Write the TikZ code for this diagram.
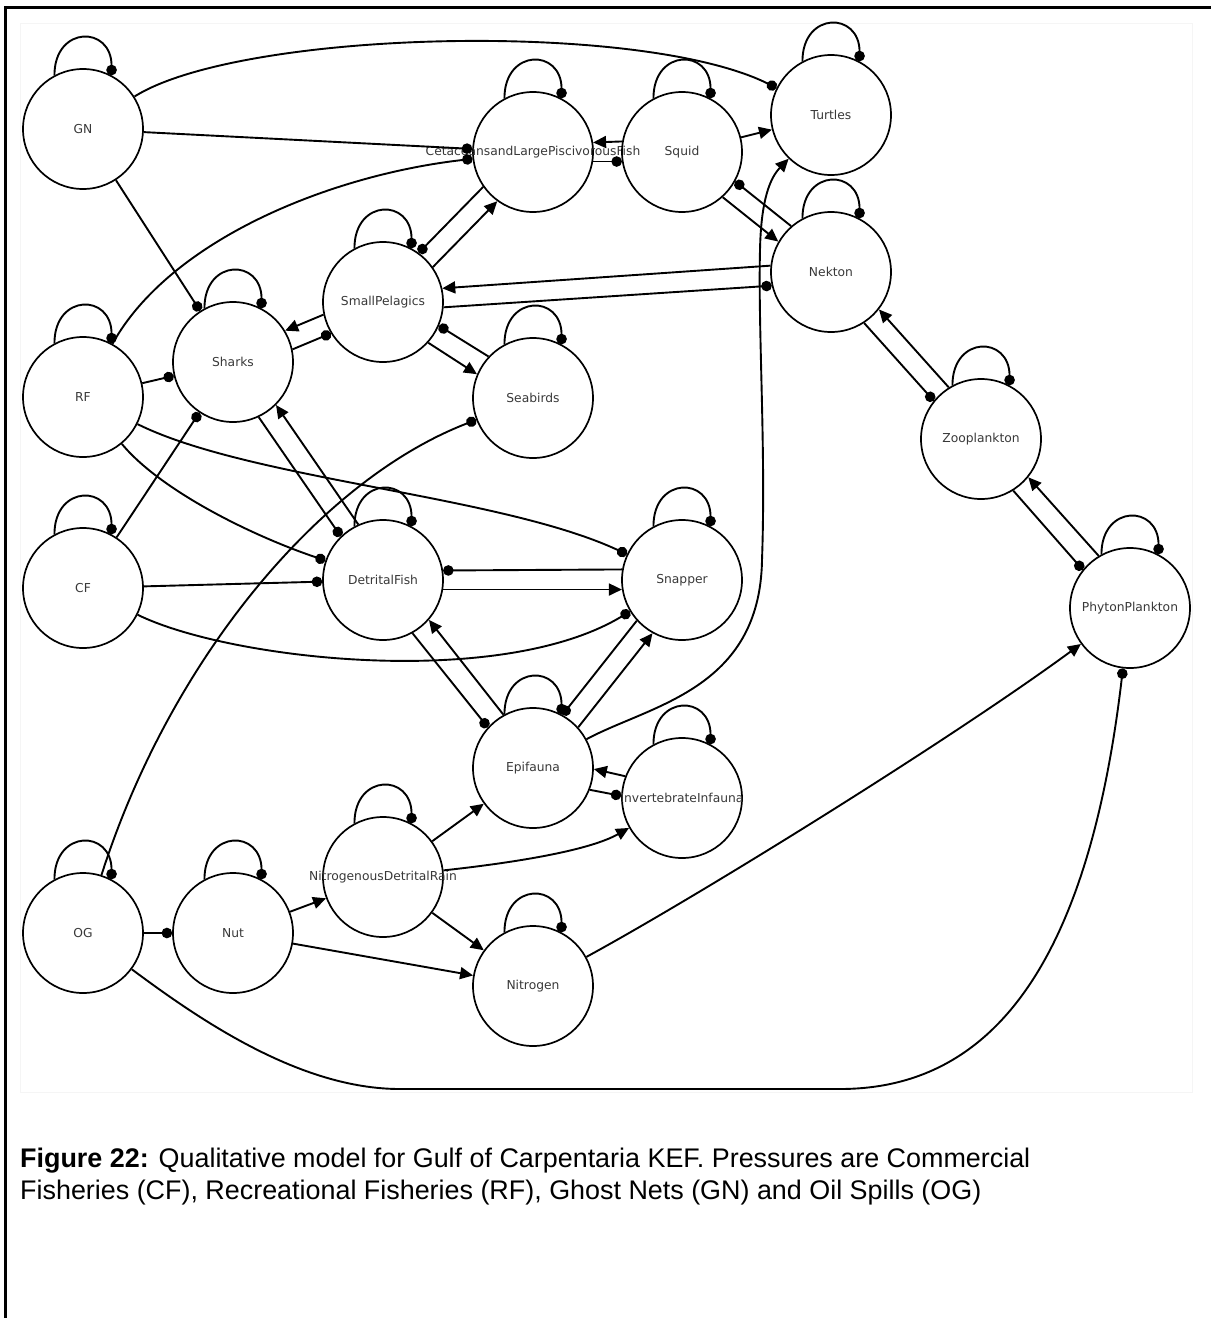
\documentclass[tikz,border=0pt]{standalone}
\usepackage{fontspec}
\setmainfont{Liberation Sans}
\newfontfamily\nodefont{DejaVu Sans}
\usetikzlibrary{arrows.meta}
\newcommand\wide[1]{\makebox[0pt]{#1}}
\begin{document}
\begin{tikzpicture}[x=1pt,y=1pt,
  state/.style={circle, draw, line width=1.7pt, minimum size=120pt, inner sep=0pt,
    font=\nodefont\fontsize{12.3}{14}\selectfont, text=black!78},
  link/.style={line width=1.9pt},
  arr/.style={link, -{Triangle[length=13pt,width=12pt]}},
  dot/.style={link, -{Circle[length=10.5pt]}},
  captext/.style={anchor=base west, inner sep=0pt, font=\fontsize{26.9}{32}\selectfont}
]
\useasboundingbox (0,0) rectangle (1211,-1318);
% page frame and faint picture edge
\draw[line width=2.5pt] (5.5,-1318) -- (5.5,-7.5) -- (1211,-7.5);
\draw[black!4, line width=0.8pt] (20,-23) rectangle (1192,-1092);

% species and pressure nodes
\node[state] (GN) at (83,-129) {GN};
\node[state] (Cet) at (533,-152) {\wide{CetaceansandLargePiscivorousFish}};
\node[state] (Squid) at (682,-152) {Squid};
\node[state] (Turtles) at (831,-115) {Turtles};
\node[state] (Nekton) at (831,-272) {Nekton};
\node[state] (SP) at (383,-302) {\wide{SmallPelagics}};
\node[state] (Sharks) at (233,-362) {Sharks};
\node[state] (RF) at (83,-397) {RF};
\node[state] (Seabirds) at (533,-398) {Seabirds};
\node[state] (Zoo) at (981,-439) {\wide{Zooplankton}};
\node[state] (DF) at (383,-580) {\wide{DetritalFish}};
\node[state] (Snapper) at (682,-580) {Snapper};
\node[state] (CF) at (83,-588) {CF};
\node[state] (PP) at (1130,-608) {\wide{PhytonPlankton}};
\node[state] (Epi) at (533,-768) {Epifauna};
\node[state] (Inv) at (682,-798) {\wide{InvertebrateInfauna}};
\node[state] (NDR) at (383,-877) {\wide{NitrogenousDetritalRain}};
\node[state] (OG) at (83,-933) {OG};
\node[state] (Nut) at (233,-933) {Nut};
\node[state] (Nitrogen) at (533,-986) {Nitrogen};

% self-effects
\foreach \n in {GN,Cet,Squid,Turtles,Nekton,SP,Sharks,RF,Seabirds,Zoo,DF,Snapper,CF,PP,Epi,Inv,NDR,OG,Nut,Nitrogen}
  \draw[dot] (\n.118) .. controls +(0,50) and +(0,50) .. (\n.62);

% paired links (positive and negative effects)
\draw[arr] (Squid.170.4) -- (Cet.9.6);
\draw[dot] (Cet.-9.6) -- (Squid.189.6);
\draw[arr] (Squid.-48.5) -- (Nekton.150.7);
\draw[dot] (Nekton.131.5) -- (Squid.-29.3);
\draw[arr] (Nekton.174.2) -- (SP.13.4);
\draw[dot] (SP.-5.8) -- (Nekton.193.4);
\draw[arr] (SP.192.2) -- (Sharks.31.4);
\draw[dot] (Sharks.12.2) -- (SP.211.4);
\draw[arr] (SP.35.4) -- (Cet.234.6);
\draw[dot] (Cet.215.4) -- (SP.54.6);
\draw[arr] (SP.-42.2) -- (Seabirds.157);
\draw[dot] (Seabirds.137.8) -- (SP.-23);
\draw[arr] (DF.114.9) -- (Sharks.-45.9);
\draw[dot] (Sharks.-65.1) -- (DF.134.1);
\draw[arr] (DF.-9.6) -- (Snapper.189.6);
\draw[dot] (Snapper.170.4) -- (DF.9.6);
\draw[arr] (Epi.119) -- (DF.-41.8);
\draw[dot] (DF.-61) -- (Epi.138.2);
\draw[arr] (Epi.42) -- (Snapper.241.2);
\draw[dot] (Snapper.222) -- (Epi.61.2);
\draw[arr] (Inv.159) -- (Epi.-1.8);
\draw[dot] (Epi.-21) -- (Inv.178.2);
\draw[arr] (Zoo.122.3) -- (Nekton.-38.5);
\draw[dot] (Nekton.-57.7) -- (Zoo.141.5);
\draw[arr] (PP.121.8) -- (Zoo.-39);
\draw[dot] (Zoo.-58.2) -- (PP.141);

% single straight links
\draw[dot] (GN) -- (Cet);
\draw[dot] (GN) -- (Sharks);
\draw[arr] (Squid) -- (Turtles);
\draw[dot] (RF) -- (Sharks);
\draw[dot] (CF) -- (Sharks);
\draw[dot] (CF) -- (DF);
\draw[arr] (NDR) -- (Epi);
\draw[arr] (NDR) -- (Nitrogen);
\draw[arr] (Nut) -- (NDR);
\draw[arr] (Nut) -- (Nitrogen);
\draw[dot] (OG) -- (Nut);

% curved links
\draw[dot] (GN) .. controls (240,-30) and (640,-20) .. (Turtles);
\draw[dot] (RF) .. controls (170,-240) and (330,-175) .. (Cet);
\draw[dot] (RF) .. controls (160,-490) and (250,-535) .. (DF);
\draw[dot] (RF) .. controls (250,-480) and (500,-495) .. (Snapper);
\draw[dot] (CF) .. controls (230,-660) and (500,-690) .. (Snapper);
\draw[dot] (OG) .. controls (170,-660) and (320,-480) .. (Seabirds);
\draw[arr] (Epi) .. controls (650,-705) and (760,-690) .. (762,-560)
  .. controls (766,-450) and (758,-330) .. (760,-250)
  .. controls (761,-200) and (770,-178) .. (Turtles);
\draw[arr] (NDR) .. controls (520,-862) and (590,-850) .. (Inv);
\draw[arr] (Nitrogen) .. controls (700,-895) and (950,-740) .. (PP);
\draw[dot] (OG) .. controls (200,-1020) and (300,-1089) .. (400,-1089)
  -- (840,-1089) .. controls (1000,-1089) and (1090,-950) .. (PP);

% caption
\node[captext] (cap1) at (20,-1167) {\textbf{Figure 22:} Qualitative model for Gulf of Carpentaria KEF. Pressures are Commercial};
\node[captext] (cap2) at (20,-1199) {Fisheries (CF), Recreational Fisheries (RF), Ghost Nets (GN) and Oil Spills (OG)};
\end{tikzpicture}
\end{document}
